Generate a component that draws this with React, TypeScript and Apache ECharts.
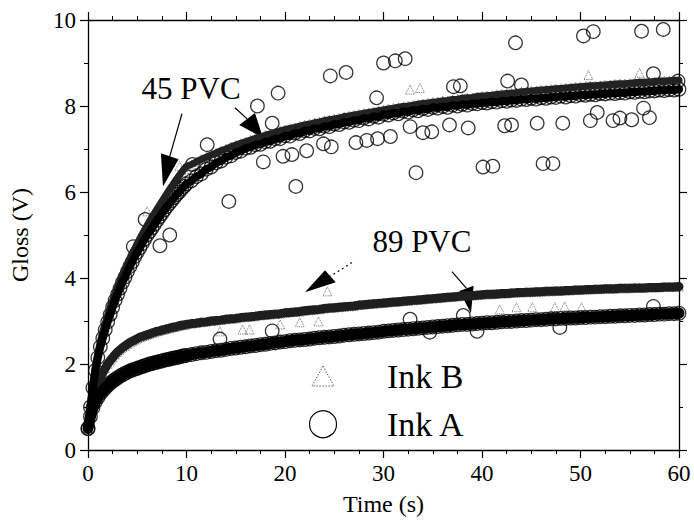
import React, { useEffect, useRef } from "react";
import * as echarts from "echarts";

const SERIF = "'Liberation Serif', 'Times New Roman', Times, serif";

// Readings are logged every 0.25 s for the first 10 s, then every 0.5 s.
const earlyTimes: number[] = Array.from({ length: 41 }, (_, i) => i * 0.25);
const lateTimes: number[] = Array.from({ length: 100 }, (_, i) => 10.5 + i * 0.5);
const sampleTimes: number[] = [...earlyTimes, ...lateTimes];

// Axis ranges
const timeTicks = [0, 10, 20, 30, 40, 50, 60];
const glossTicks = [0, 2, 4, 6, 8, 10];

// ---- 45 PVC, Ink A (circles) ----
const glossA45Early = [
  0.5, 1.0, 1.45, 1.85, 2.15, 2.4, 2.6, 2.8, 2.98, 3.15,
  3.32, 3.48, 3.62, 3.76, 3.9, 4.02, 4.15, 4.27, 4.38, 4.5,
  4.6, 4.7, 4.8, 4.9, 5.0, 5.08, 5.16, 5.25, 5.34, 5.42,
  5.5, 5.58, 5.66, 5.73, 5.8, 5.87, 5.94, 6.0, 6.07, 6.13,
  6.19,
];
const glossA45Late = [
  6.26, 6.36, 6.42, 6.53, 6.58, 6.68, 6.72, 6.81, 6.84, 6.92,
  6.95, 7.02, 7.04, 7.1, 7.11, 7.17, 7.18, 7.24, 7.24, 7.31,
  7.3, 7.37, 7.36, 7.43, 7.42, 7.48, 7.47, 7.53, 7.52, 7.58,
  7.57, 7.63, 7.62, 7.67, 7.66, 7.72, 7.7, 7.76, 7.74, 7.81,
  7.79, 7.84, 7.82, 7.88, 7.86, 7.91, 7.89, 7.94, 7.92, 7.97,
  7.95, 7.99, 7.97, 8.02, 8.0, 8.04, 8.02, 8.06, 8.05, 8.08,
  8.07, 8.1, 8.09, 8.12, 8.11, 8.14, 8.13, 8.16, 8.15, 8.18,
  8.16, 8.19, 8.18, 8.21, 8.2, 8.23, 8.21, 8.24, 8.23, 8.26,
  8.25, 8.27, 8.26, 8.29, 8.28, 8.3, 8.29, 8.31, 8.3, 8.33,
  8.32, 8.34, 8.33, 8.35, 8.35, 8.37, 8.36, 8.38, 8.37, 8.39,
];
// scattered circles away from the 45 PVC band
const strayTimesA45 = [
  4.6, 5.8, 7.3, 8.3, 10.6, 12.1, 14.3, 17.2, 17.8, 18.7, 19.3, 19.8, 20.7, 21.1, 22.2,
  23.9, 24.6, 24.7, 26.2, 27.2, 28.3, 29.3, 29.4, 30.0, 30.7, 31.2, 32.2, 32.7, 33.3, 34.0,
  34.9, 36.7, 37.1, 37.8, 38.6, 40.1, 41.1, 42.3, 42.6, 43.0, 43.4, 44.0, 45.6, 46.2, 47.2,
  48.2, 50.3, 51.0, 51.3, 51.7, 53.3, 54.0, 55.2, 56.2, 56.4, 57.0, 57.4, 58.4, 59.9,
];
const strayGlossA45 = [
  4.73, 5.36, 4.75, 5.0, 6.64, 7.1, 5.78, 8.0, 6.7, 7.6, 8.3, 6.83, 6.87, 6.13, 6.96,
  7.12, 8.7, 7.05, 8.78, 7.15, 7.2, 8.19, 7.24, 9.0, 7.29, 9.05, 9.1, 7.52, 6.45, 7.38,
  7.4, 7.56, 8.45, 8.47, 7.49, 6.58, 6.6, 7.54, 8.58, 7.56, 9.47, 8.49, 7.6, 6.66, 6.66,
  7.6, 9.63, 7.66, 9.73, 7.85, 7.66, 7.72, 7.68, 9.74, 7.95, 7.73, 8.75, 9.78, 8.58,
];

// ---- 45 PVC, Ink B (triangles) ----
const glossB45Early = [
  0.5, 1.05, 1.55, 1.95, 2.25, 2.52, 2.75, 2.95, 3.14, 3.32,
  3.48, 3.64, 3.79, 3.93, 4.06, 4.19, 4.32, 4.44, 4.56, 4.68,
  4.8, 4.91, 5.02, 5.12, 5.22, 5.32, 5.42, 5.51, 5.6, 5.69,
  5.78, 5.87, 5.96, 6.05, 6.13, 6.22, 6.3, 6.38, 6.46, 6.53,
  6.6,
];
const glossB45Late = [
  6.64, 6.7, 6.76, 6.81, 6.86, 6.91, 6.96, 7.0, 7.05, 7.09,
  7.13, 7.17, 7.21, 7.25, 7.28, 7.32, 7.35, 7.38, 7.42, 7.45,
  7.48, 7.5, 7.53, 7.56, 7.58, 7.61, 7.63, 7.66, 7.68, 7.7,
  7.72, 7.75, 7.77, 7.79, 7.81, 7.83, 7.85, 7.87, 7.89, 7.91,
  7.93, 7.95, 7.97, 7.99, 8.0, 8.02, 8.04, 8.06, 8.07, 8.09,
  8.1, 8.12, 8.13, 8.15, 8.16, 8.18, 8.19, 8.2, 8.22, 8.23,
  8.24, 8.25, 8.27, 8.28, 8.29, 8.3, 8.31, 8.33, 8.34, 8.35,
  8.36, 8.37, 8.38, 8.39, 8.4, 8.41, 8.42, 8.43, 8.44, 8.45,
  8.46, 8.47, 8.47, 8.48, 8.49, 8.5, 8.51, 8.52, 8.52, 8.53,
  8.54, 8.55, 8.55, 8.56, 8.57, 8.58, 8.58, 8.59, 8.6, 8.6,
];
const strayTimesB45 = [6.0, 9.3, 32.7, 33.7, 50.8, 56.0];
const strayGlossB45 = [5.55, 6.6, 8.38, 8.42, 8.72, 8.77];

// ---- 89 PVC, Ink A (circles) ----
const glossA89Early = [
  0.5, 0.78, 0.98, 1.12, 1.22, 1.31, 1.38, 1.44, 1.5, 1.55,
  1.6, 1.64, 1.68, 1.72, 1.75, 1.78, 1.81, 1.84, 1.86, 1.88,
  1.9, 1.92, 1.94, 1.96, 1.98, 2.0, 2.01, 2.03, 2.04, 2.06,
  2.07, 2.09, 2.1, 2.11, 2.13, 2.14, 2.15, 2.16, 2.18, 2.19,
  2.2,
];
const glossA89Late = [
  2.22, 2.24, 2.26, 2.27, 2.29, 2.31, 2.32, 2.34, 2.36, 2.37,
  2.39, 2.4, 2.42, 2.43, 2.45, 2.46, 2.48, 2.49, 2.51, 2.52,
  2.54, 2.55, 2.56, 2.57, 2.58, 2.6, 2.61, 2.62, 2.63, 2.64,
  2.65, 2.67, 2.68, 2.69, 2.7, 2.71, 2.72, 2.73, 2.74, 2.76,
  2.77, 2.78, 2.79, 2.8, 2.81, 2.82, 2.83, 2.84, 2.85, 2.86,
  2.87, 2.88, 2.89, 2.9, 2.91, 2.92, 2.92, 2.93, 2.94, 2.95,
  2.96, 2.96, 2.97, 2.98, 2.99, 2.99, 3.0, 3.01, 3.01, 3.02,
  3.03, 3.03, 3.04, 3.05, 3.05, 3.06, 3.06, 3.07, 3.07, 3.08,
  3.08, 3.09, 3.09, 3.1, 3.1, 3.11, 3.11, 3.12, 3.12, 3.13,
  3.13, 3.14, 3.14, 3.15, 3.15, 3.16, 3.16, 3.17, 3.17, 3.18,
];
const strayTimesA89 = [13.4, 18.7, 32.7, 34.7, 38.1, 39.5, 47.9, 57.4];
const strayGlossA89 = [2.58, 2.77, 3.04, 2.74, 3.13, 2.76, 2.85, 3.34];

// ---- 89 PVC, Ink B (triangles) ----
const glossB89Early = [
  0.5, 0.85, 1.12, 1.35, 1.52, 1.67, 1.8, 1.9, 2.0, 2.08,
  2.15, 2.22, 2.28, 2.33, 2.38, 2.42, 2.46, 2.5, 2.53, 2.56,
  2.59, 2.62, 2.64, 2.66, 2.68, 2.7, 2.72, 2.74, 2.76, 2.77,
  2.79, 2.8, 2.82, 2.83, 2.85, 2.86, 2.87, 2.89, 2.9, 2.91,
  2.92,
];
const glossB89Late = [
  2.94, 2.95, 2.97, 2.98, 3.0, 3.01, 3.02, 3.04, 3.05, 3.06,
  3.08, 3.09, 3.1, 3.11, 3.13, 3.14, 3.15, 3.16, 3.17, 3.19,
  3.2, 3.21, 3.22, 3.24, 3.25, 3.26, 3.27, 3.29, 3.3, 3.31,
  3.32, 3.33, 3.34, 3.35, 3.37, 3.38, 3.39, 3.4, 3.41, 3.42,
  3.43, 3.44, 3.45, 3.46, 3.47, 3.48, 3.49, 3.5, 3.51, 3.52,
  3.53, 3.54, 3.55, 3.56, 3.57, 3.58, 3.59, 3.59, 3.6, 3.61,
  3.62, 3.62, 3.63, 3.64, 3.64, 3.65, 3.66, 3.66, 3.67, 3.67,
  3.68, 3.68, 3.69, 3.69, 3.7, 3.7, 3.71, 3.71, 3.72, 3.72,
  3.73, 3.73, 3.74, 3.74, 3.75, 3.75, 3.75, 3.76, 3.76, 3.76,
  3.77, 3.77, 3.77, 3.78, 3.78, 3.78, 3.79, 3.79, 3.79, 3.8,
];
const strayTimesB89 = [13.4, 15.7, 16.4, 19.5, 21.5, 23.4, 24.3, 41.8, 43.5, 45.1, 47.4, 48.4, 50.1];
const strayGlossB89 = [2.76, 2.8, 2.8, 2.92, 2.97, 2.99, 3.69, 3.27, 3.32, 3.32, 3.32, 3.34, 3.32];

// Callouts in data units [time, gloss]
const labelPVC45 = { text: "45 PVC", at: [10.46, 8.4] };
const labelPVC89 = { text: "89 PVC", at: [33.9, 4.85] };
const arrows = [
  { from: [9.54, 7.82], tip: [7.61, 6.13], wings: [[7.4, 6.9], [9.2, 6.76]], dotted: false },
  { from: [14.92, 7.96], tip: [17.77, 7.26], wings: [[15.35, 7.56], [16.95, 7.84]], dotted: false },
  { from: [26.8, 4.36], tip: [22.03, 3.67], wings: [[24.06, 4.18], [25.15, 3.9]], dotted: true },
  { from: [36.95, 4.15], tip: [38.88, 3.18], wings: [[37.7, 3.7], [39.15, 3.82]], dotted: false },
];
const legendItems = [
  { name: "Ink B", marker: "triangle", at: [23.86, 1.72], textTime: 30.36 },
  { name: "Ink A", marker: "circle", at: [23.86, 0.6], textTime: 30.36 },
];

const pairUp = (ts: number[], vs: number[]) => ts.map((t, i) => [t, vs[i]]);

const circleStyle = { color: "rgba(0,0,0,0)", borderColor: "#000", borderWidth: 1.3 };
const triangleStyle = { color: "rgba(0,0,0,0)", borderColor: "#333", borderWidth: 0.9, borderType: "dotted" };

function bandLine(name: string, values: number[], width: number, color: string) {
  return {
    name,
    type: "line",
    data: pairUp(sampleTimes, values),
    showSymbol: false,
    silent: true,
    smooth: false,
    lineStyle: { width, color, cap: "round", join: "round" },
  };
}
function marks(name: string, ts: number[], vs: number[], kind: "circle" | "triangle") {
  return {
    name,
    type: "scatter",
    data: pairUp(ts, vs),
    symbol: kind,
    symbolSize: kind === "circle" ? 13.5 : 9,
    itemStyle: kind === "circle" ? circleStyle : triangleStyle,
  };
}

function axisCommon(labels: boolean) {
  return {
    type: "value",
    splitLine: { show: false },
    axisLine: { show: true, onZero: false, lineStyle: { color: "#000", width: 1.3 } },
    axisTick: { show: true, inside: false, length: 8, lineStyle: { color: "#000", width: 1.2 } },
    axisLabel: { show: labels, color: "#000", fontFamily: SERIF, fontSize: 23, margin: 12 },
  };
}

const xBase = {
  min: timeTicks[0],
  max: timeTicks[timeTicks.length - 1],
  interval: timeTicks[1] - timeTicks[0],
};
const yBase = {
  min: glossTicks[0],
  max: glossTicks[glossTicks.length - 1],
  interval: glossTicks[1] - glossTicks[0],
};

const option: any = {
  animation: false,
  backgroundColor: "#fff",
  grid: { left: 88, right: 15, top: 20, bottom: 70 },
  xAxis: [
    {
      ...axisCommon(true),
      ...xBase,
      position: "bottom",
      minorTick: { show: true, splitNumber: 4, length: 4, lineStyle: { color: "#000", width: 1 } },
      name: "Time (s)",
      nameLocation: "middle",
      nameGap: 42,
      nameTextStyle: { color: "#000", fontFamily: SERIF, fontSize: 24 },
    },
    {
      ...axisCommon(false),
      ...xBase,
      position: "top",
      minorTick: { show: true, splitNumber: 4, length: 4, lineStyle: { color: "#000", width: 1 } },
    },
  ],
  yAxis: [
    {
      ...axisCommon(true),
      ...yBase,
      position: "left",
      minorTick: { show: true, splitNumber: 2, length: 4, lineStyle: { color: "#000", width: 1 } },
      name: "Gloss (V)",
      nameLocation: "middle",
      nameGap: 56,
      nameTextStyle: { color: "#000", fontFamily: SERIF, fontSize: 24 },
    },
    {
      ...axisCommon(false),
      ...yBase,
      position: "right",
      minorTick: { show: true, splitNumber: 2, length: 4, lineStyle: { color: "#000", width: 1 } },
    },
  ],
  series: [
    bandLine("Ink B", [...glossB45Early, ...glossB45Late], 7, "#222"),
    marks("Ink B", sampleTimes, [...glossB45Early, ...glossB45Late], "triangle"),
    marks("Ink B", strayTimesB45, strayGlossB45, "triangle"),
    bandLine("Ink B", [...glossB89Early, ...glossB89Late], 9, "#1e1e1e"),
    marks("Ink B", sampleTimes, [...glossB89Early, ...glossB89Late], "triangle"),
    marks("Ink B", strayTimesB89, strayGlossB89, "triangle"),
    bandLine("Ink A", [...glossA45Early, ...glossA45Late], 8, "#000"),
    marks("Ink A", sampleTimes, [...glossA45Early, ...glossA45Late], "circle"),
    marks("Ink A", strayTimesA45, strayGlossA45, "circle"),
    bandLine("Ink A", [...glossA89Early, ...glossA89Late], 11, "#000"),
    marks("Ink A", sampleTimes, [...glossA89Early, ...glossA89Late], "circle"),
    marks("Ink A", strayTimesA89, strayGlossA89, "circle"),
  ],
};

function buildGraphics(px: (p: number[]) => number[]) {
  const out: any[] = [];
  for (const lab of [labelPVC45, labelPVC89]) {
    const [x, y] = px(lab.at);
    out.push({
      type: "text",
      x,
      y,
      style: { text: lab.text, fill: "#000", fontFamily: SERIF, fontSize: 31, align: "center", verticalAlign: "middle" },
    });
  }
  for (const a of arrows) {
    const [x1, y1] = px(a.from);
    const w1 = px(a.wings[0]);
    const w2 = px(a.wings[1]);
    const tip = px(a.tip);
    const mx = (w1[0] + w2[0]) / 2;
    const my = (w1[1] + w2[1]) / 2;
    out.push({
      type: "line",
      shape: { x1, y1, x2: mx, y2: my },
      style: { stroke: "#000", lineWidth: 1.2, lineDash: a.dotted ? [2, 3] : null },
    });
    out.push({ type: "polygon", shape: { points: [w1, tip, w2] }, style: { fill: "#000" } });
  }
  for (const item of legendItems) {
    const [cx, cy] = px(item.at);
    if (item.marker === "circle") {
      out.push({ type: "circle", shape: { cx, cy, r: 13.5 }, style: { fill: "none", stroke: "#000", lineWidth: 1.2 } });
    } else {
      out.push({
        type: "polygon",
        shape: { points: [[cx, cy - 10], [cx + 11, cy + 10], [cx - 11, cy + 10]] },
        style: { fill: "none", stroke: "#555", lineWidth: 1, lineDash: [1.5, 1.5] },
      });
    }
    const [tx] = px([item.textTime, item.at[1]]);
    out.push({
      type: "text",
      x: tx,
      y: cy,
      style: { text: item.name, fill: "#000", fontFamily: SERIF, fontSize: 34, align: "left", verticalAlign: "middle" },
    });
  }
  return out;
}

export default function App() {
  const ref = useRef<HTMLDivElement>(null);
  useEffect(() => {
    if (!ref.current) return;
    const chart = echarts.init(ref.current, null, { renderer: "svg" });
    chart.setOption(option);
    const px = (p: number[]) => chart.convertToPixel({ xAxisIndex: 0, yAxisIndex: 0 }, p) as number[];
    chart.setOption({ graphic: buildGraphics(px) });
    return () => chart.dispose();
  }, []);
  return (
    <div
      ref={ref}
      style={{ position: "fixed", left: 0, top: 0, width: 694, height: 521, background: "#fff" }}
    />
  );
}
